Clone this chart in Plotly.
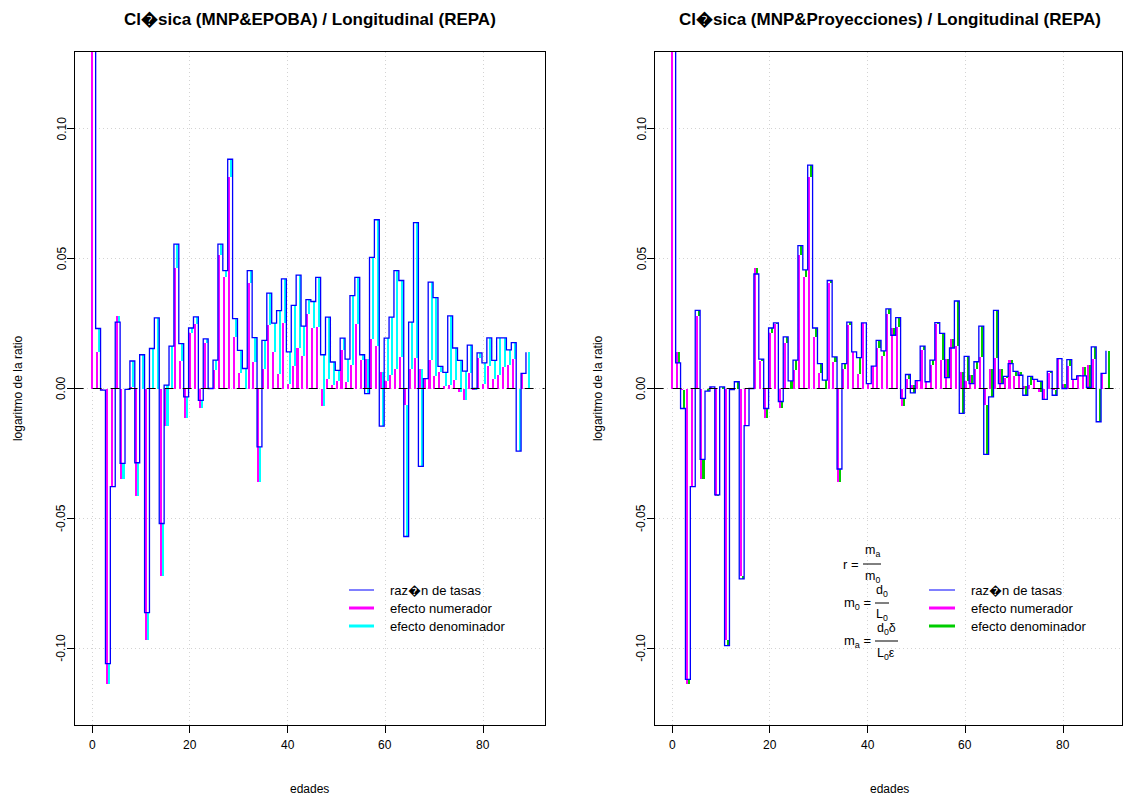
import plotly.graph_objects as go

W, H = 1123, 800
OFF = 0.0   # body margin removed via post_script

ages = list(range(90))

# numerator effect (same deaths source in both panels)
num_effect = [0.29, 0.0141, -0.0005, -0.1137, -0.0378, 0.0278, -0.035, 0.0, 0.0005, -0.0414,
              0.0, -0.097, 0.0, 0.0, -0.0724, -0.0143, 0.0, 0.0465, 0.0105, -0.0112,
              0.0213, 0.0247, -0.0077, 0.0176, 0.0, 0.0073, 0.0515, 0.0431, 0.0815, 0.020,
              0.006, 0.0, 0.0405, 0.0102, -0.036, 0.0077, 0.0243, 0.0140, 0.0055, 0.0253,
              0.0019, 0.0087, 0.0155, 0.0124, 0.0288, 0.0233, 0.0238, -0.0067, 0.0037, 0.0013,
              0.0027, 0.0147, 0.0026, 0.009, 0.025, 0.011, 0.0115, 0.0192, 0.0162, 0.0064,
              0.0027, 0.0051, 0.0077, 0.012, -0.0064, 0.0077, 0.0119, 0.0077, 0.0042, 0.0108,
              0.0047, 0.0065, 0.001, 0.0015, 0.0033, -0.0013, -0.0045, 0.006, -0.0007, 0.0119,
              0.0016, 0.0085, 0.0037, 0.0052, 0.0082, 0.0092, 0.0115, 0.0, 0.0058, 0.0]

# left panel: Clasica (MNP&EPOBA) / Longitudinal (REPA)
ratio_epoba = [0.30, 0.0231, -0.0006, -0.106, -0.0378, 0.0256, -0.0288, -0.0003, 0.0106, -0.0286,
               0.013, -0.0863, 0.0154, 0.0272, -0.052, 0.0013, 0.0163, 0.0556, 0.0173, -0.0032,
               0.0233, 0.0276, -0.0046, 0.0191, 0.0, 0.0109, 0.0556, 0.0454, 0.0883, 0.0269,
               0.0147, 0.0077, 0.0454, 0.0196, -0.0225, 0.0185, 0.0367, 0.0252, 0.030, 0.0422,
               0.0141, 0.032, 0.0437, 0.024, 0.0342, 0.0335, 0.0428, 0.013, 0.0275, 0.0102,
               0.007, 0.0194, 0.0113, 0.0358, 0.0428, 0.013, -0.002, 0.0505, 0.065, -0.0145,
               0.0194, 0.0275, 0.0454, 0.0416, -0.057, 0.0256, 0.0639, -0.030, 0.0038, 0.041,
               0.035, 0.0085, 0.0062, 0.028, 0.0156, 0.0108, 0.0067, 0.0167, 0.0, 0.0137,
               0.0099, 0.0195, 0.0108, 0.0195, 0.0195, 0.0149, 0.0177, -0.0241, 0.0058, 0.014]
den_epoba = [0.01, 0.009, -0.0001, 0.0077, 0.0, -0.0022, 0.0062, -0.0003, 0.0101, 0.0128,
             0.013, 0.0107, 0.0154, 0.0272, 0.0204, 0.0156, 0.0163, 0.0091, 0.0068, 0.008,
             0.002, 0.0029, 0.0031, 0.0015, 0.0, 0.0036, 0.0041, 0.0023, 0.0068, 0.0069,
             0.0087, 0.0077, 0.0049, 0.0094, 0.0135, 0.0108, 0.0124, 0.0112, 0.0245, 0.0169,
             0.0122, 0.0233, 0.0282, 0.0116, 0.0054, 0.0102, 0.019, 0.0197, 0.0238, 0.0089,
             0.0043, 0.0047, 0.0087, 0.0268, 0.0178, 0.002, -0.0135, 0.0313, 0.0488, -0.0209,
             0.0167, 0.0224, 0.0377, 0.0296, -0.0506, 0.0179, 0.052, -0.0377, -0.0004, 0.0302,
             0.0303, 0.002, 0.0052, 0.0265, 0.0123, 0.0121, 0.0112, 0.0107, 0.0007, 0.0018,
             0.0083, 0.011, 0.0071, 0.0143, 0.0113, 0.0057, 0.0062, -0.0241, 0.0, 0.014]

# right panel: Clasica (MNP&Proyecciones) / Longitudinal (REPA)
ratio_proy = [0.30, 0.0099, -0.0077, -0.112, -0.0378, 0.0301, -0.0273, -0.001, 0.0006, -0.041,
              0.0006, -0.099, -0.0004, 0.0026, -0.0733, -0.0143, 0.0, 0.0441, 0.0113, -0.0077,
              0.0233, 0.0253, -0.005, 0.0199, 0.0029, 0.0109, 0.055, 0.0457, 0.086, 0.0233,
              0.0096, 0.0032, 0.0416, 0.0122, -0.031, 0.0096, 0.0256, 0.0141, 0.0119, 0.0253,
              0.0019, 0.0086, 0.0185, 0.0145, 0.0307, 0.0205, 0.0273, -0.0038, 0.0054, -0.0017,
              0.003, 0.0163, 0.0026, 0.0109, 0.0254, 0.0212, 0.0042, 0.0156, 0.0337, -0.0096,
              0.0124, 0.0019, 0.0103, 0.024, -0.0254, -0.0032, 0.0301, 0.0019, 0.0047, 0.0096,
              0.0066, 0.0051, -0.0026, 0.0047, 0.0035, 0.0028, -0.0042, 0.0066, -0.0026, 0.0115,
              0.0, 0.0111, 0.0035, 0.0049, 0.0049, 0.0004, 0.016, -0.0128, 0.0058, 0.0145]
den_proy = [0.01, -0.0042, -0.0072, 0.0017, 0.0, 0.0023, 0.0077, -0.001, 0.0001, 0.0004,
            0.0006, -0.002, -0.0004, 0.0026, -0.0009, 0.0, 0.0, -0.0024, 0.0008, 0.0035,
            0.002, 0.0006, 0.0027, 0.0023, 0.0029, 0.0036, 0.0035, 0.0026, 0.0045, 0.0033,
            0.0036, 0.0032, 0.0011, 0.002, 0.005, 0.0019, 0.0013, 0.0001, 0.0064, 0.0,
            0.0, -0.0001, 0.003, 0.0021, 0.0019, -0.0028, 0.0035, 0.0029, 0.0017, -0.003,
            0.0003, 0.0016, 0.0, 0.0019, 0.0004, 0.0102, -0.0073, -0.0036, 0.0175, -0.016,
            0.0097, -0.0032, 0.0026, 0.012, -0.019, -0.0109, 0.0182, -0.0058, 0.0005, -0.0012,
            0.0019, -0.0014, -0.0036, 0.0032, 0.0002, 0.0041, 0.0003, 0.0006, -0.0019, -0.0004,
            -0.0016, 0.0026, -0.0002, -0.0003, -0.0033, -0.0088, 0.0045, -0.0128, 0.0, 0.0145]

titles = ["Cl\ufffdsica (MNP&EPOBA) / Longitudinal (REPA)",
          "Cl\ufffdsica (MNP&Proyecciones) / Longitudinal (REPA)"]
legend_labels = ["raz\ufffdn de tasas", "efecto numerador", "efecto denominador"]
x_ticks = [0, 20, 40, 60, 80]
y_ticks = [-0.10, -0.05, 0.0, 0.05, 0.10]
y_ticktext = ["-0.10", "-0.05", "0.00", "0.05", "0.10"]

BLUE = "#0000FF"
MAGENTA = "#FF00FF"
CYAN = "#00FFFF"
GREEN = "#00CD00"
FONT = "Liberation Sans, Arial, sans-serif"

PXU = 470.0 / 96.12          # pixels per age unit
X0 = -3.56


def px(x):
    return (x - OFF) / W


def py(y):
    return 1 - (y - OFF) / H


left_px = [74.6, 654.6]
right_px = [544.6, 1122.0]
plot_top, plot_bottom = 52.0, 725.0

panels = [
    dict(ratio=ratio_epoba, den=den_epoba, dcol=CYAN, xa="x", ya="y"),
    dict(ratio=ratio_proy, den=den_proy, dcol=GREEN, xa="x2", ya="y2"),
]

fig = go.Figure()
for p in panels:
    fig.add_trace(go.Bar(x=[a + 0.02 for a in ages], y=num_effect, base=0, width=0.42,
                         marker=dict(color=MAGENTA, line=dict(width=0)),
                         xaxis=p["xa"], yaxis=p["ya"], showlegend=False))
    fig.add_trace(go.Bar(x=[a + 0.44 for a in ages], y=p["den"], base=num_effect, width=0.42,
                         marker=dict(color=p["dcol"], line=dict(width=0)),
                         xaxis=p["xa"], yaxis=p["ya"], showlegend=False))
    fig.add_trace(go.Scatter(x=[a - 0.25 for a in ages], y=p["ratio"], mode="lines",
                             line=dict(color=BLUE, width=1.3, shape="hv"),
                             xaxis=p["xa"], yaxis=p["ya"], showlegend=False))

ydom = [py(plot_bottom), py(plot_top)]
axis_common = dict(showline=True, mirror=True, linecolor="black", linewidth=1,
                   ticks="outside", ticklen=7, tickcolor="black", tickwidth=1,
                   showgrid=True, gridcolor="#D3D3D3", griddash="1px,3px", gridwidth=1,
                   zeroline=False, showticklabels=False)
layout_axes = {}
for i, lp in enumerate(left_px):
    rp = right_px[i]
    sx = "" if i == 0 else "2"
    layout_axes["xaxis" + sx] = dict(domain=[px(lp), px(rp)],
                                     range=[X0, X0 + (rp - lp) / PXU],
                                     tickvals=x_ticks, anchor="y" + sx, **axis_common)
    layout_axes["yaxis" + sx] = dict(domain=ydom, range=[-0.1296, 0.1296], tickvals=y_ticks,
                                     anchor="x" + sx, **axis_common)

shapes = []
annotations = []
for i, lp in enumerate(left_px):
    rp = right_px[i]
    cx = lp + 235.0
    sx = "" if i == 0 else "2"
    shapes.append(dict(type="line", xref="paper", yref="y" + sx, x0=px(lp), x1=px(rp),
                       y0=0, y1=0, line=dict(color="black", width=1, dash="dash"),
                       layer="above"))
    annotations.append(dict(text="<b>" + titles[i] + "</b>", x=px(cx), y=py(19),
                            xref="paper", yref="paper", showarrow=False,
                            font=dict(family=FONT, size=17, color="black"),
                            xanchor="center", yanchor="middle"))
    annotations.append(dict(text="edades", x=px(cx), y=py(789), xref="paper",
                            yref="paper", showarrow=False,
                            font=dict(family=FONT, size=12, color="black"),
                            xanchor="center", yanchor="middle"))
    annotations.append(dict(text="logaritmo de la ratio", x=px(lp - 57),
                            y=py((plot_top + plot_bottom) / 2), xref="paper",
                            yref="paper", showarrow=False, textangle=-90,
                            font=dict(family=FONT, size=12, color="black"),
                            xanchor="center", yanchor="middle"))
    # tick labels
    for v, t in zip(y_ticks, y_ticktext):
        annotations.append(dict(text=t, x=px(lp - 13), y=v, xref="paper", yref="y" + sx,
                                showarrow=False, textangle=-90, xanchor="center",
                                yanchor="middle",
                                font=dict(family=FONT, size=12, color="black")))
    for v in x_ticks:
        annotations.append(dict(text=str(v), x=v, y=py(745), xref="x" + sx, yref="paper",
                                showarrow=False, xanchor="center", yanchor="middle",
                                font=dict(family=FONT, size=12, color="black")))

# legends (drawn manually, R style, no box)
leg_x = [(349, 374, 388), (929, 955, 969)]
leg_y = [590, 608, 626]
leg_cols = [[BLUE, MAGENTA, CYAN], [BLUE, MAGENTA, GREEN]]
leg_w = [1, 3, 3]
for i in range(2):
    x0, x1, xt = leg_x[i]
    for j in range(3):
        shapes.append(dict(type="line", xref="paper", yref="paper", x0=px(x0), x1=px(x1),
                           y0=py(leg_y[j]), y1=py(leg_y[j]),
                           line=dict(color=leg_cols[i][j], width=leg_w[j])))
        annotations.append(dict(text=legend_labels[j], x=px(xt), y=py(leg_y[j]),
                                xref="paper", yref="paper", showarrow=False,
                                xanchor="left", yanchor="middle",
                                font=dict(family=FONT, size=13, color="black")))


def ptext(t, x, y, anchor="center", size=13):
    annotations.append(dict(text=t, x=px(x), y=py(y), xref="paper", yref="paper",
                            showarrow=False, xanchor=anchor, yanchor="middle",
                            font=dict(family=FONT, size=size, color="black")))


def fbar(x0, x1, y):
    shapes.append(dict(type="line", xref="paper", yref="paper", x0=px(x0), x1=px(x1),
                       y0=py(y), y1=py(y), line=dict(color="black", width=1)))


ptext("r =", 861, 564, "right")
fbar(863, 881, 564)
ptext("m<sub>a</sub>", 872, 551, size=12.5)
ptext("m<sub>0</sub>", 872, 577, size=12.5)

ptext("m<sub>0</sub> =", 873, 603, "right")
fbar(875, 889, 603)
ptext("d<sub>0</sub>", 882, 591, size=12.5)
ptext("L<sub>0</sub>", 882, 615, size=12.5)

ptext("m<sub>a</sub> =", 873, 641, "right")
fbar(875, 898, 641)
ptext("d<sub>0</sub>\u03b4", 886, 629, size=12.5)
ptext("L<sub>0</sub>\u03b5", 886, 654, size=12.5)

fig.update_layout(width=W, height=H, margin=dict(l=0, r=0, t=0, b=0),
                  paper_bgcolor="white", plot_bgcolor="white", barmode="overlay",
                  bargap=0, showlegend=False, shapes=shapes, annotations=annotations,
                  hovermode=False, **layout_axes)

fig.write_html("out.html", config={"displayModeBar": False, "staticPlot": True},
               post_script="document.body.style.margin='0';"
                           "document.body.style.overflow='hidden';")
